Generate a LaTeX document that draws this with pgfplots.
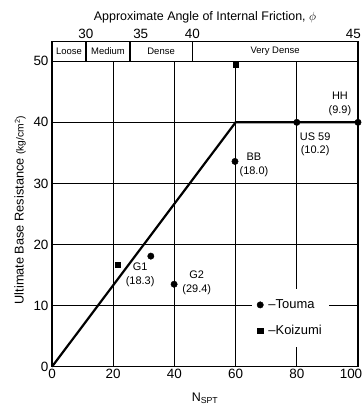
\documentclass[border=0pt]{standalone}
\usepackage{fontspec}
\setmainfont{Liberation Sans}
\usepackage{pgfplots}
\pgfplotsset{compat=1.18}
\begin{document}
\begin{tikzpicture}[x=1bp,y=1bp]
\path[use as bounding box] (-52,-42.3) rectangle (312,366.7);
\begin{axis}[
  at={(0,0)}, anchor=south west,
  scale only axis, width=306bp, height=325bp,
  xmin=0, xmax=100, ymin=0, ymax=53.2,
  xtick={0,20,...,100}, ytick={0,10,...,50},
  xticklabels={0,20,40,60,80,{\hspace*{-14bp}100}},
  grid=major, major grid style={black, line width=1.1pt},
  axis line style={line width=1.6pt},
  tick style={draw=none},
  ticklabel style={font=\fontsize{13.5}{13.5}\selectfont},
  /pgf/number format/assume math mode=true,
  xticklabel style={yshift=1bp},
  xlabel={N\textsubscript{SPT}},
  xlabel style={font=\fontsize{12.5}{12.5}\selectfont, yshift=-7bp},
  ylabel={Ultimate Base Resistance {\fontsize{10.3}{10.3}\selectfont(kg/cm\textsuperscript{2})}},
  ylabel style={font=\fontsize{12.8}{12.8}\selectfont, xshift=-6bp, yshift=1bp},
  clip=false,
  legend style={at={(axis cs:65.3,12.8)}, anchor=north west, draw=none, fill=white,
    font=\fontsize{13}{13}\selectfont, inner xsep=5bp, inner ysep=9bp, row sep=11bp},
  legend cell align=left,
]
% band
\fill[white] (axis cs:0,50) rectangle (axis cs:100,53.2);
\draw[line width=1.1pt] (axis cs:0,50) -- (axis cs:100,50);
\draw[line width=1.1pt] (axis cs:11.1,50) -- (axis cs:11.1,53.2);
\draw[line width=1.1pt] (axis cs:25.5,50) -- (axis cs:25.5,53.2);
\draw[line width=1.1pt] (axis cs:45.8,50) -- (axis cs:45.8,53.2);
\draw[line width=1.6pt] (axis cs:0,0) rectangle (axis cs:100,53.2);
\node[font=\fontsize{9.5}{9.5}\selectfont] at (axis cs:5.55,51.6) {Loose};
\node[font=\fontsize{9.5}{9.5}\selectfont] at (axis cs:18.3,51.6) {Medium};
\node[font=\fontsize{9.5}{9.5}\selectfont] at (axis cs:35.65,51.6) {Dense};
\node[font=\fontsize{9.5}{9.5}\selectfont] at (axis cs:72.9,51.6) {Very Dense};
% curve
\addplot[black, line width=2.2pt, forget plot] coordinates {(0,0) (60,40) (100,40)};
\addplot[only marks, mark=*, mark size=3.2bp, black] coordinates {(32.3,18.1) (39.9,13.5) (59.8,33.6) (80,40) (100,40)};
\addplot[only marks, mark=square*, mark size=2.7bp, black] coordinates {(21.4,16.7) (60,49.4)};
\legend{\hspace{3bp}--Touma, \hspace{3bp}--Koizumi}
% labels
\node[font=\fontsize{11}{14}\selectfont, align=center] at (axis cs:94.1,43.1) {HH\\(9.9)};
\node[font=\fontsize{11}{14}\selectfont, align=center] at (axis cs:86,36.4) {US 59\\(10.2)};
\node[font=\fontsize{11}{14}\selectfont, align=center] at (axis cs:66,33.1) {BB\\(18.0)};
\node[font=\fontsize{11}{14}\selectfont, align=center] at (axis cs:28.8,15.0) {G1\\(18.3)};
\node[font=\fontsize{11}{14}\selectfont, align=center] at (axis cs:47.3,13.7) {G2\\(29.4)};
\end{axis}
\begin{axis}[
  at={(0,0)}, anchor=south west,
  scale only axis, width=306bp, height=325bp,
  xmin=0, xmax=100, ymin=0, ymax=53.2,
  axis x line*=top, axis y line=none,
  xtick={11.1,29.0,45.9,98.5}, xticklabels={30,35,40,45},
  tick style={draw=none},
  ticklabel style={font=\fontsize{13.5}{13.5}\selectfont},
  /pgf/number format/assume math mode=true,
  axis line style={draw=none},
  xlabel={Approximate Angle of Internal Friction, $\phi$},
  xlabel style={font=\fontsize{12.5}{12.5}\selectfont, yshift=-1bp},
]
\end{axis}
\end{tikzpicture}
\end{document}
